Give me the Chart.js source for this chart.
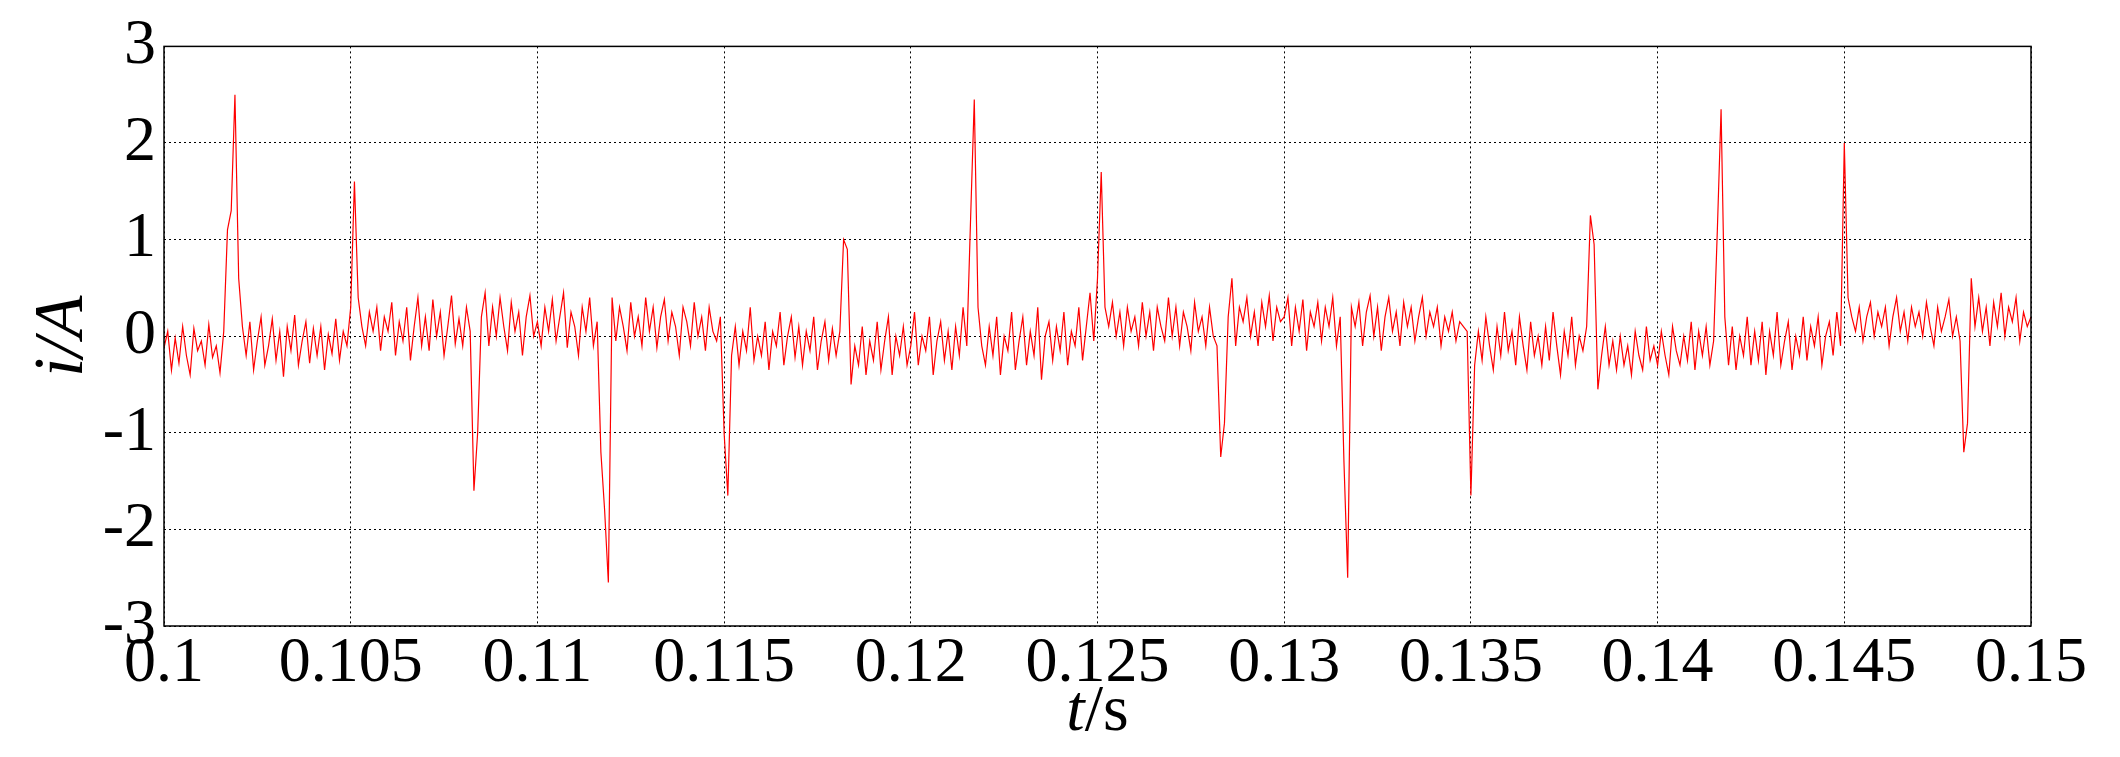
<!DOCTYPE html>
<html>
<head>
<meta charset="utf-8">
<script src="https://cdn.jsdelivr.net/npm/chart.js@4/dist/chart.umd.min.js"></script>
<style>
  html, body { margin: 0; padding: 0; background: #fff; }
  #wrap { width: 2120px; height: 757px; }
</style>
</head>
<body>
<div id="wrap"><canvas id="c" width="2120" height="757"></canvas></div>
<script>
// Messreihe: Startzeit und Abtastschritt
const t0 = 0.1;
const dt = 0.0001;

// Strom i/A, eine Zeile pro Millisekunde (10 Werte)
const current = [
  -0.12, 0.05, -0.35, -0.02, -0.28, 0.1, -0.2, -0.4, 0.08, -0.15,
  -0.05, -0.3, 0.12, -0.22, -0.1, -0.38, 0.05, 1.1, 1.3, 2.5,
  0.6, 0.1, -0.2, 0.15, -0.35, -0.05, 0.2, -0.3, -0.1, 0.18,
  -0.25, 0.05, -0.42, 0.1, -0.15, 0.22, -0.3, -0.05, 0.15, -0.28,
  0.08, -0.2, 0.1, -0.35, 0.02, -0.18, 0.18, -0.25, 0.05, -0.1,
  0.3, 1.6, 0.4, 0.1, -0.1, 0.25, 0.05, 0.3, -0.15, 0.2,
  0.05, 0.35, -0.2, 0.15, -0.05, 0.3, -0.25, 0.1, 0.4, -0.1,
  0.2, -0.15, 0.38, 0.0, 0.25, -0.2, 0.1, 0.42, -0.08, 0.18,
  -0.1, 0.3, 0.05, -1.6, -1.0, 0.2, 0.45, -0.1, 0.3, 0.0,
  0.4, 0.1, -0.15, 0.35, 0.05, 0.25, -0.2, 0.2, 0.42, 0.0,
  0.15, -0.1, 0.3, 0.05, 0.38, -0.05, 0.2, 0.45, -0.12, 0.25,
  0.1, -0.2, 0.3, 0.05, 0.4, -0.1, 0.15, -1.2, -1.8, -2.55,
  0.4, -0.05, 0.3, 0.1, -0.15, 0.35, 0.0, 0.2, -0.1, 0.4,
  0.05, 0.3, -0.12, 0.2, 0.38, -0.05, 0.25, 0.1, -0.2, 0.3,
  0.15, -0.1, 0.35, 0.0, 0.2, -0.15, 0.3, 0.05, -0.05, 0.2,
  -1.0, -1.65, -0.2, 0.1, -0.3, 0.05, -0.15, 0.3, -0.25, 0.0,
  -0.2, 0.15, -0.35, 0.05, -0.1, 0.25, -0.3, 0.0, 0.2, -0.22,
  0.1, -0.3, 0.05, -0.15, 0.2, -0.35, -0.05, 0.15, -0.25, 0.08,
  -0.2, 0.05, 1.0, 0.9, -0.5, -0.1, -0.3, 0.1, -0.4, -0.05,
  -0.25, 0.15, -0.35, -0.05, 0.2, -0.4, 0.0, -0.2, 0.1, -0.3,
  -0.1, 0.25, -0.3, 0.0, -0.15, 0.2, -0.4, -0.05, 0.15, -0.25,
  0.05, -0.35, 0.1, -0.2, 0.3, -0.1, 1.2, 2.45, 0.3, -0.1,
  -0.3, 0.1, -0.2, 0.2, -0.4, 0.0, -0.15, 0.25, -0.35, -0.05,
  0.2, -0.3, 0.05, -0.2, 0.3, -0.45, 0.0, 0.15, -0.25, 0.1,
  -0.15, 0.25, -0.3, 0.05, -0.1, 0.3, -0.25, 0.1, 0.45, -0.05,
  0.6, 1.7, 0.3, 0.1, 0.35, 0.0, 0.25, -0.1, 0.3, 0.05,
  0.2, -0.1, 0.35, 0.0, 0.25, -0.15, 0.3, 0.1, -0.05, 0.4,
  0.0, 0.3, -0.1, 0.25, 0.1, -0.15, 0.35, 0.05, 0.2, -0.1,
  0.3, 0.0, -0.1, -1.25, -0.9, 0.2, 0.6, -0.1, 0.3, 0.15,
  0.4, 0.0, 0.25, -0.1, 0.35, 0.1, 0.42, -0.05, 0.3, 0.15,
  0.2, 0.4, -0.1, 0.3, 0.05, 0.38, -0.15, 0.25, 0.1, 0.35,
  -0.05, 0.3, 0.1, 0.4, -0.1, 0.2, -1.3, -2.5, 0.3, 0.1,
  0.35, -0.1, 0.25, 0.42, 0.0, 0.3, -0.15, 0.2, 0.4, 0.05,
  0.25, -0.1, 0.35, 0.1, 0.3, -0.05, 0.2, 0.4, 0.0, 0.25,
  0.1, 0.3, -0.1, 0.2, 0.05, 0.25, -0.05, 0.15, 0.1, 0.05,
  -1.65, -0.3, 0.05, -0.25, 0.2, -0.1, -0.35, 0.1, -0.2, 0.25,
  -0.15, 0.05, -0.3, 0.2, -0.1, -0.35, 0.15, -0.2, 0.0, -0.3,
  0.1, -0.25, 0.25, -0.1, -0.4, 0.05, -0.2, 0.2, -0.3, 0.0,
  -0.15, 0.1, 1.25, 0.95, -0.55, -0.2, 0.1, -0.3, -0.05, -0.35,
  0.0, -0.3, -0.1, -0.4, 0.05, -0.2, -0.35, 0.1, -0.25, -0.1,
  -0.3, 0.05, -0.2, -0.4, 0.1, -0.15, -0.3, 0.0, -0.25, 0.15,
  -0.35, 0.05, -0.2, 0.1, -0.3, -0.05, 1.1, 2.35, 0.2, -0.3,
  0.1, -0.35, 0.0, -0.2, 0.2, -0.3, 0.05, -0.25, 0.15, -0.4,
  0.05, -0.2, 0.25, -0.3, -0.05, 0.15, -0.35, 0.0, -0.2, 0.2,
  -0.25, 0.1, -0.1, 0.2, -0.3, 0.0, 0.15, -0.2, 0.25, -0.1,
  2.0, 0.4, 0.2, 0.05, 0.3, -0.05, 0.2, 0.35, 0.0, 0.25,
  0.1, 0.3, -0.1, 0.2, 0.4, 0.05, 0.25, -0.05, 0.3, 0.1,
  0.25, 0.0, 0.35, 0.1, -0.1, 0.3, 0.05, 0.2, 0.38, 0.0,
  0.2, -0.05, -1.2, -0.9, 0.6, 0.1, 0.4, 0.05, 0.3, -0.1,
  0.35, 0.1, 0.45, 0.0, 0.3, 0.15, 0.4, -0.05, 0.25, 0.1,
  0.2
];

const xTicks = [0.1, 0.105, 0.11, 0.115, 0.12, 0.125, 0.13, 0.135, 0.14, 0.145, 0.15];
const xTickLabels = ['0.1', '0.105', '0.11', '0.115', '0.12', '0.125', '0.13', '0.135', '0.14', '0.145', '0.15'];
const yTicks = [-3, -2, -1, 0, 1, 2, 3];

const points = current.map((v, i) => ({ x: t0 + i * dt, y: v }));
const serif = '"Liberation Serif", "DejaVu Serif", serif';

// Rahmen und Achsentitel zeichnen
const framePlugin = {
  id: 'frame',
  afterDraw(chart) {
    const { ctx, chartArea: a } = chart;
    ctx.save();
    ctx.strokeStyle = '#000';
    ctx.lineWidth = 1.5;
    ctx.strokeRect(a.left, a.top, a.right - a.left, a.bottom - a.top);

    ctx.fillStyle = '#000';
    ctx.textBaseline = 'alphabetic';
    // x-Titel: t/s
    const xMid = (a.left + a.right) / 2;
    ctx.font = 'italic 66px ' + serif;
    const wT = ctx.measureText('t').width;
    ctx.font = '66px ' + serif;
    const wS = ctx.measureText('/s').width;
    let x = xMid - (wT + wS) / 2;
    ctx.font = 'italic 66px ' + serif;
    ctx.fillText('t', x, 730);
    ctx.font = '66px ' + serif;
    ctx.fillText('/s', x + wT, 730);
    // y-Titel: i/A
    ctx.translate(82, (a.top + a.bottom) / 2);
    ctx.rotate(-Math.PI / 2);
    ctx.font = 'italic 70px ' + serif;
    ctx.textAlign = 'center';
    ctx.fillText('i/A', 0, 0);
    ctx.restore();
  }
};

new Chart(document.getElementById('c').getContext('2d'), {
  type: 'line',
  data: {
    datasets: [{
      data: points,
      borderColor: '#ff0000',
      borderWidth: 1.2,
      pointRadius: 0,
      tension: 0,
      fill: false
    }]
  },
  options: {
    responsive: false,
    animation: false,
    layout: { padding: { left: 4, right: 89, top: 37, bottom: 0 } },
    plugins: { legend: { display: false }, tooltip: { enabled: false } },
    scales: {
      x: {
        type: 'linear',
        min: 0.1,
        max: 0.15,
        afterBuildTicks: s => { s.ticks = xTicks.map(v => ({ value: v })); },
        afterFit: s => { s.height = 131; },
        ticks: {
          callback: (v) => xTickLabels[xTicks.findIndex(t => Math.abs(t - v) < 1e-9)],
          font: { family: serif, size: 64 },
          color: '#000',
          maxRotation: 0,
          autoSkip: false,
          padding: 0
        },
        grid: { color: '#000', lineWidth: 1, tickLength: 0 },
        border: { display: false, dash: [2, 3] }
      },
      y: {
        min: -3,
        max: 3,
        afterBuildTicks: s => { s.ticks = yTicks.map(v => ({ value: v })); },
        afterFit: s => { s.width = 160; },
        ticks: {
          font: { family: serif, size: 64 },
          color: '#000',
          padding: 8
        },
        grid: { color: '#000', lineWidth: 1, tickLength: 0 },
        border: { display: false, dash: [2, 3] }
      }
    }
  },
  plugins: [framePlugin]
});
</script>
</body>
</html>
